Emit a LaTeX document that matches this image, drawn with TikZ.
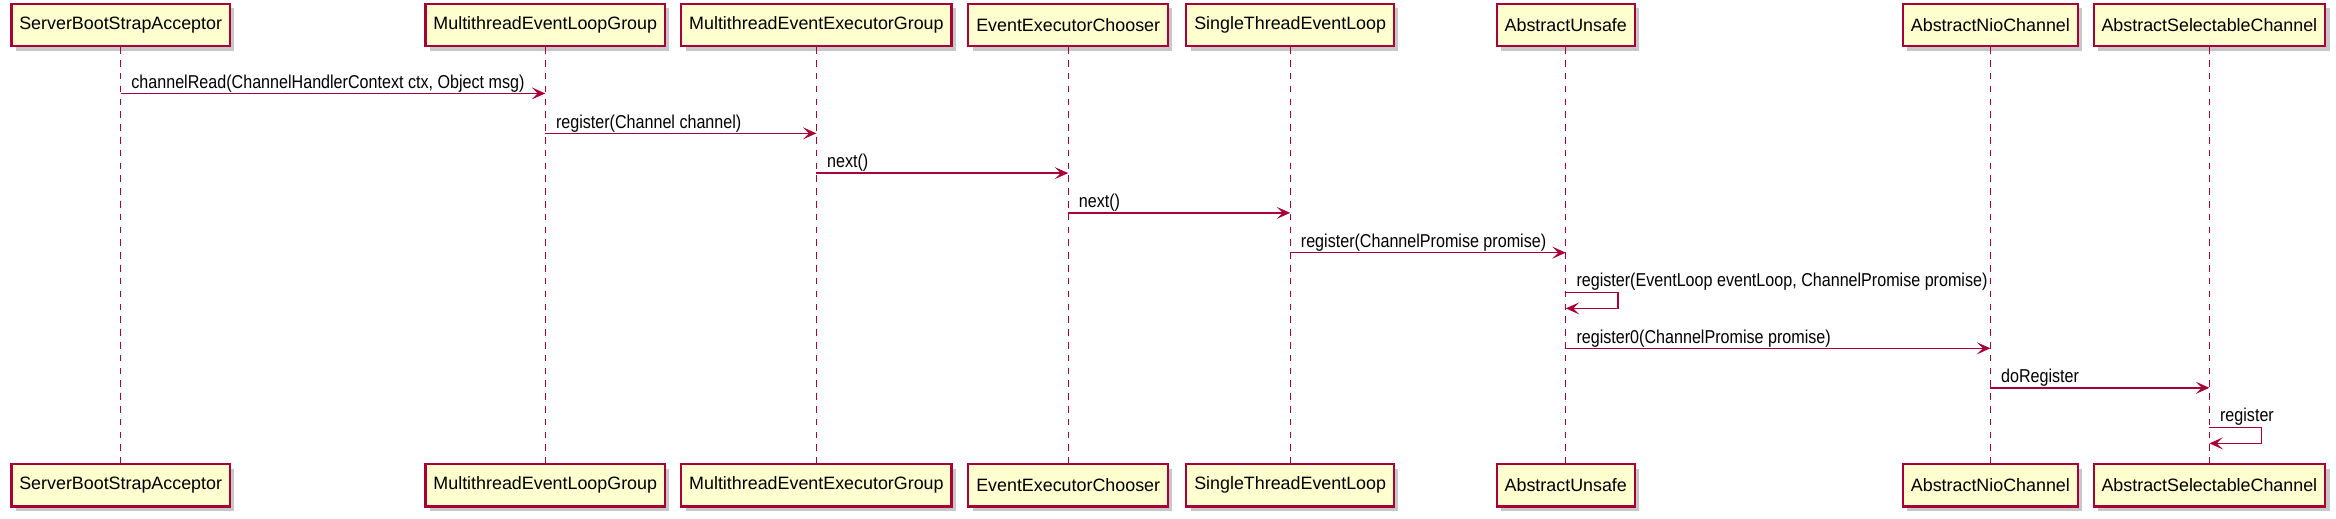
\documentclass[tikz,border=0pt]{standalone}
\usepackage{fontspec}
\setmainfont{Liberation Sans}
\newfontfamily\lblfont[FakeStretch=0.865]{Liberation Sans}
\usetikzlibrary{arrows.meta,shadows}
\definecolor{pborder}{HTML}{A80036}
\definecolor{pfill}{HTML}{FEFECE}
\tikzset{
  part/.style={draw=pborder, fill=pfill, line width=1.5pt, minimum height=28.5pt,
    inner xsep=5.3pt, inner ysep=0pt, font=\fontsize{12pt}{14pt}\selectfont,
    drop shadow={shadow xshift=3pt, shadow yshift=-3pt, opacity=0.22, fill=black}},
  life/.style={draw=pborder, line width=0.8pt, dash pattern=on 4.4pt off 4.2pt},
  msg/.style={draw=pborder, line width=1pt, -{Stealth[length=9pt,width=8pt,inset=4pt]}},
  lbl/.style={anchor=base west, inner sep=0pt, font=\lblfont\fontsize{12.5pt}{14pt}\selectfont}
}
\begin{document}
\begin{tikzpicture}[x=1pt,y=-1pt]
\useasboundingbox (0,0) rectangle (1568,347.7);
% participants (top)
\node[part] (p1t) at (81,16.75) {ServerBootStrapAcceptor};
\node[part] (p2t) at (366,16.75) {MultithreadEventLoopGroup};
\node[part] (p3t) at (548,16.75) {MultithreadEventExecutorGroup};
\node[part] (p4t) at (717,16.75) {EventExecutorChooser};
\node[part] (p5t) at (866,16.75) {SingleThreadEventLoop};
\node[part] (p6t) at (1051,16.75) {AbstractUnsafe};
\node[part] (p7t) at (1336,16.75) {AbstractNioChannel};
\node[part] (p8t) at (1483,16.75) {AbstractSelectableChannel};
% participants (bottom)
\node[part] (p1b) at (81,325.75) {ServerBootStrapAcceptor};
\node[part] (p2b) at (366,325.75) {MultithreadEventLoopGroup};
\node[part] (p3b) at (548,325.75) {MultithreadEventExecutorGroup};
\node[part] (p4b) at (717,325.75) {EventExecutorChooser};
\node[part] (p5b) at (866,325.75) {SingleThreadEventLoop};
\node[part] (p6b) at (1051,325.75) {AbstractUnsafe};
\node[part] (p7b) at (1336,325.75) {AbstractNioChannel};
\node[part] (p8b) at (1483,325.75) {AbstractSelectableChannel};
% lifelines
\foreach \i in {1,...,8} {\draw[life] (p\i t.south) -- (p\i b.north);}
% messages
\draw[msg] (p1t.south |- 0,62.7) -- (p2t.south |- 0,62.7);
\path (p1t.south |- 0,62.7) ++(7,-3.5) node[lbl] (l1) {channelRead(ChannelHandlerContext ctx, Object msg)};
\draw[msg] (p2t.south |- 0,89.5) -- (p3t.south |- 0,89.5);
\path (p2t.south |- 0,89.5) ++(7,-3.5) node[lbl] (l2) {register(Channel channel)};
\draw[msg] (p3t.south |- 0,116.2) -- (p4t.south |- 0,116.2);
\path (p3t.south |- 0,116.2) ++(7,-3.5) node[lbl] (l3) {next()};
\draw[msg] (p4t.south |- 0,142.9) -- (p5t.south |- 0,142.9);
\path (p4t.south |- 0,142.9) ++(7,-3.5) node[lbl] (l4) {next()};
\draw[msg] (p5t.south |- 0,169.6) -- (p6t.south |- 0,169.6);
\path (p5t.south |- 0,169.6) ++(7,-3.5) node[lbl] (l5) {register(ChannelPromise promise)};
\draw[msg] (p6t.south |- 0,196.2) -- ++(35,0) -- ++(0,10.8) -- (p6t.south |- 0,207);
\path (p6t.south |- 0,196.2) ++(7,-4) node[lbl] (l6) {register(EventLoop eventLoop, ChannelPromise promise)};
\draw[msg] (p6t.south |- 0,233.8) -- (p7t.south |- 0,233.8);
\path (p6t.south |- 0,233.8) ++(7,-3.5) node[lbl] (l7) {register0(ChannelPromise promise)};
\draw[msg] (p7t.south |- 0,260.3) -- (p8t.south |- 0,260.3);
\path (p7t.south |- 0,260.3) ++(7,-3.5) node[lbl] (l8) {doRegister};
\draw[msg] (p8t.south |- 0,286.8) -- ++(35,0) -- ++(0,10.8) -- (p8t.south |- 0,297.6);
\path (p8t.south |- 0,286.8) ++(7,-4) node[lbl] (l9) {register};
\end{tikzpicture}
\end{document}
